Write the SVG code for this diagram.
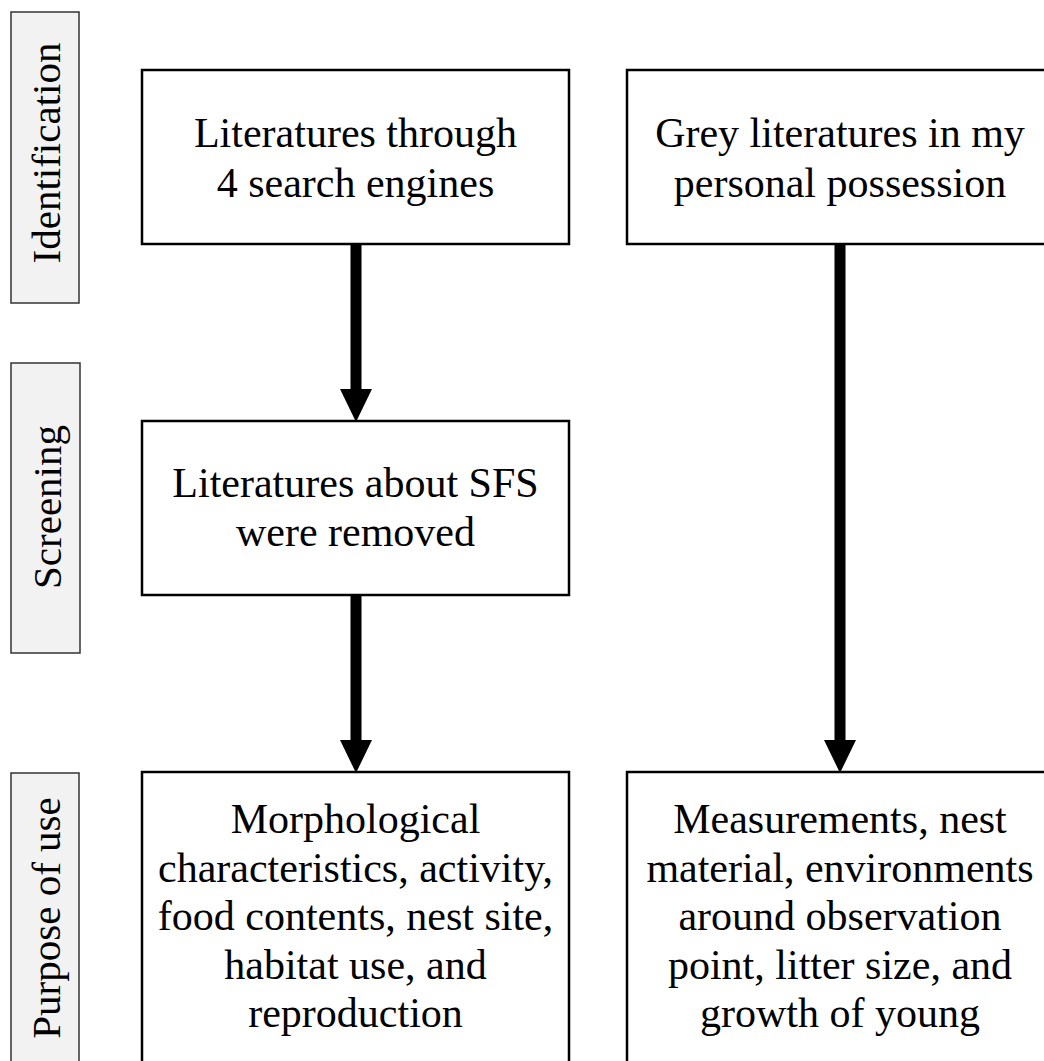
<svg xmlns="http://www.w3.org/2000/svg" width="1044" height="1061" viewBox="0 0 1044 1061">
<style>
.lbl{fill:#f2f2f2;stroke:#333;stroke-width:1.5}
.box{fill:#fff;stroke:#000;stroke-width:2.5}
text{font-family:"Liberation Serif","Times New Roman",serif;fill:#000}
.t{font-size:42px;text-anchor:middle}
.lt{font-size:41px;text-anchor:middle}
.conn{stroke:#000;stroke-width:11;fill:none}
</style>
<defs>
<marker id="ah" markerUnits="userSpaceOnUse" markerWidth="34" markerHeight="34" refX="0" refY="16" orient="auto" viewBox="0 0 34 34">
<path d="M0,0 L33,16 L0,32 z" fill="#000"/>
</marker>
</defs>
<rect width="1044" height="1061" fill="#fff"/>
<g id="label-identification">
<rect class="lbl" x="11" y="12" width="68" height="291"/>
<text class="lt" transform="translate(60,153) rotate(-90)">Identification</text>
</g>
<g id="label-screening">
<rect class="lbl" x="11" y="363" width="69" height="290"/>
<text class="lt" transform="translate(61,507) rotate(-90)">Screening</text>
</g>
<g id="label-purpose">
<rect class="lbl" x="11" y="773" width="68" height="300"/>
<text class="lt" transform="translate(60,918) rotate(-90)">Purpose of use</text>
</g>
<g id="connectors">
<line class="conn" x1="356" y1="244" x2="356" y2="389" marker-end="url(#ah)"/>
<line class="conn" x1="356" y1="595" x2="356" y2="740" marker-end="url(#ah)"/>
<line class="conn" x1="840" y1="244" x2="840" y2="740" marker-end="url(#ah)"/>
</g>
<g id="node-search-engines">
<rect class="box" x="142" y="70" width="427" height="174"/>
<text class="t" x="355.5" y="147">Literatures through</text>
<text class="t" x="355.5" y="197">4 search engines</text>
</g>
<g id="node-grey-literature">
<rect class="box" x="627" y="70" width="426" height="174"/>
<text class="t" x="840" y="147">Grey literatures in my</text>
<text class="t" x="840" y="197">personal possession</text>
</g>
<g id="node-sfs-removed">
<rect class="box" x="142" y="421" width="427" height="174"/>
<text class="t" x="355.5" y="497">Literatures about SFS</text>
<text class="t" x="355.5" y="546">were removed</text>
</g>
<g id="node-purpose-left">
<rect class="box" x="142" y="772" width="427" height="300"/>
<text class="t" x="355.5" y="833">Morphological</text>
<text class="t" x="355.5" y="881.5">characteristics, activity,</text>
<text class="t" x="355.5" y="930">food contents, nest site,</text>
<text class="t" x="355.5" y="978.5">habitat use, and</text>
<text class="t" x="355.5" y="1027">reproduction</text>
</g>
<g id="node-purpose-right">
<rect class="box" x="627" y="772" width="426" height="300"/>
<text class="t" x="840" y="833">Measurements, nest</text>
<text class="t" x="840" y="881.5">material, environments</text>
<text class="t" x="840" y="930">around observation</text>
<text class="t" x="840" y="978.5">point, litter size, and</text>
<text class="t" x="840" y="1027">growth of young</text>
</g>
</svg>
